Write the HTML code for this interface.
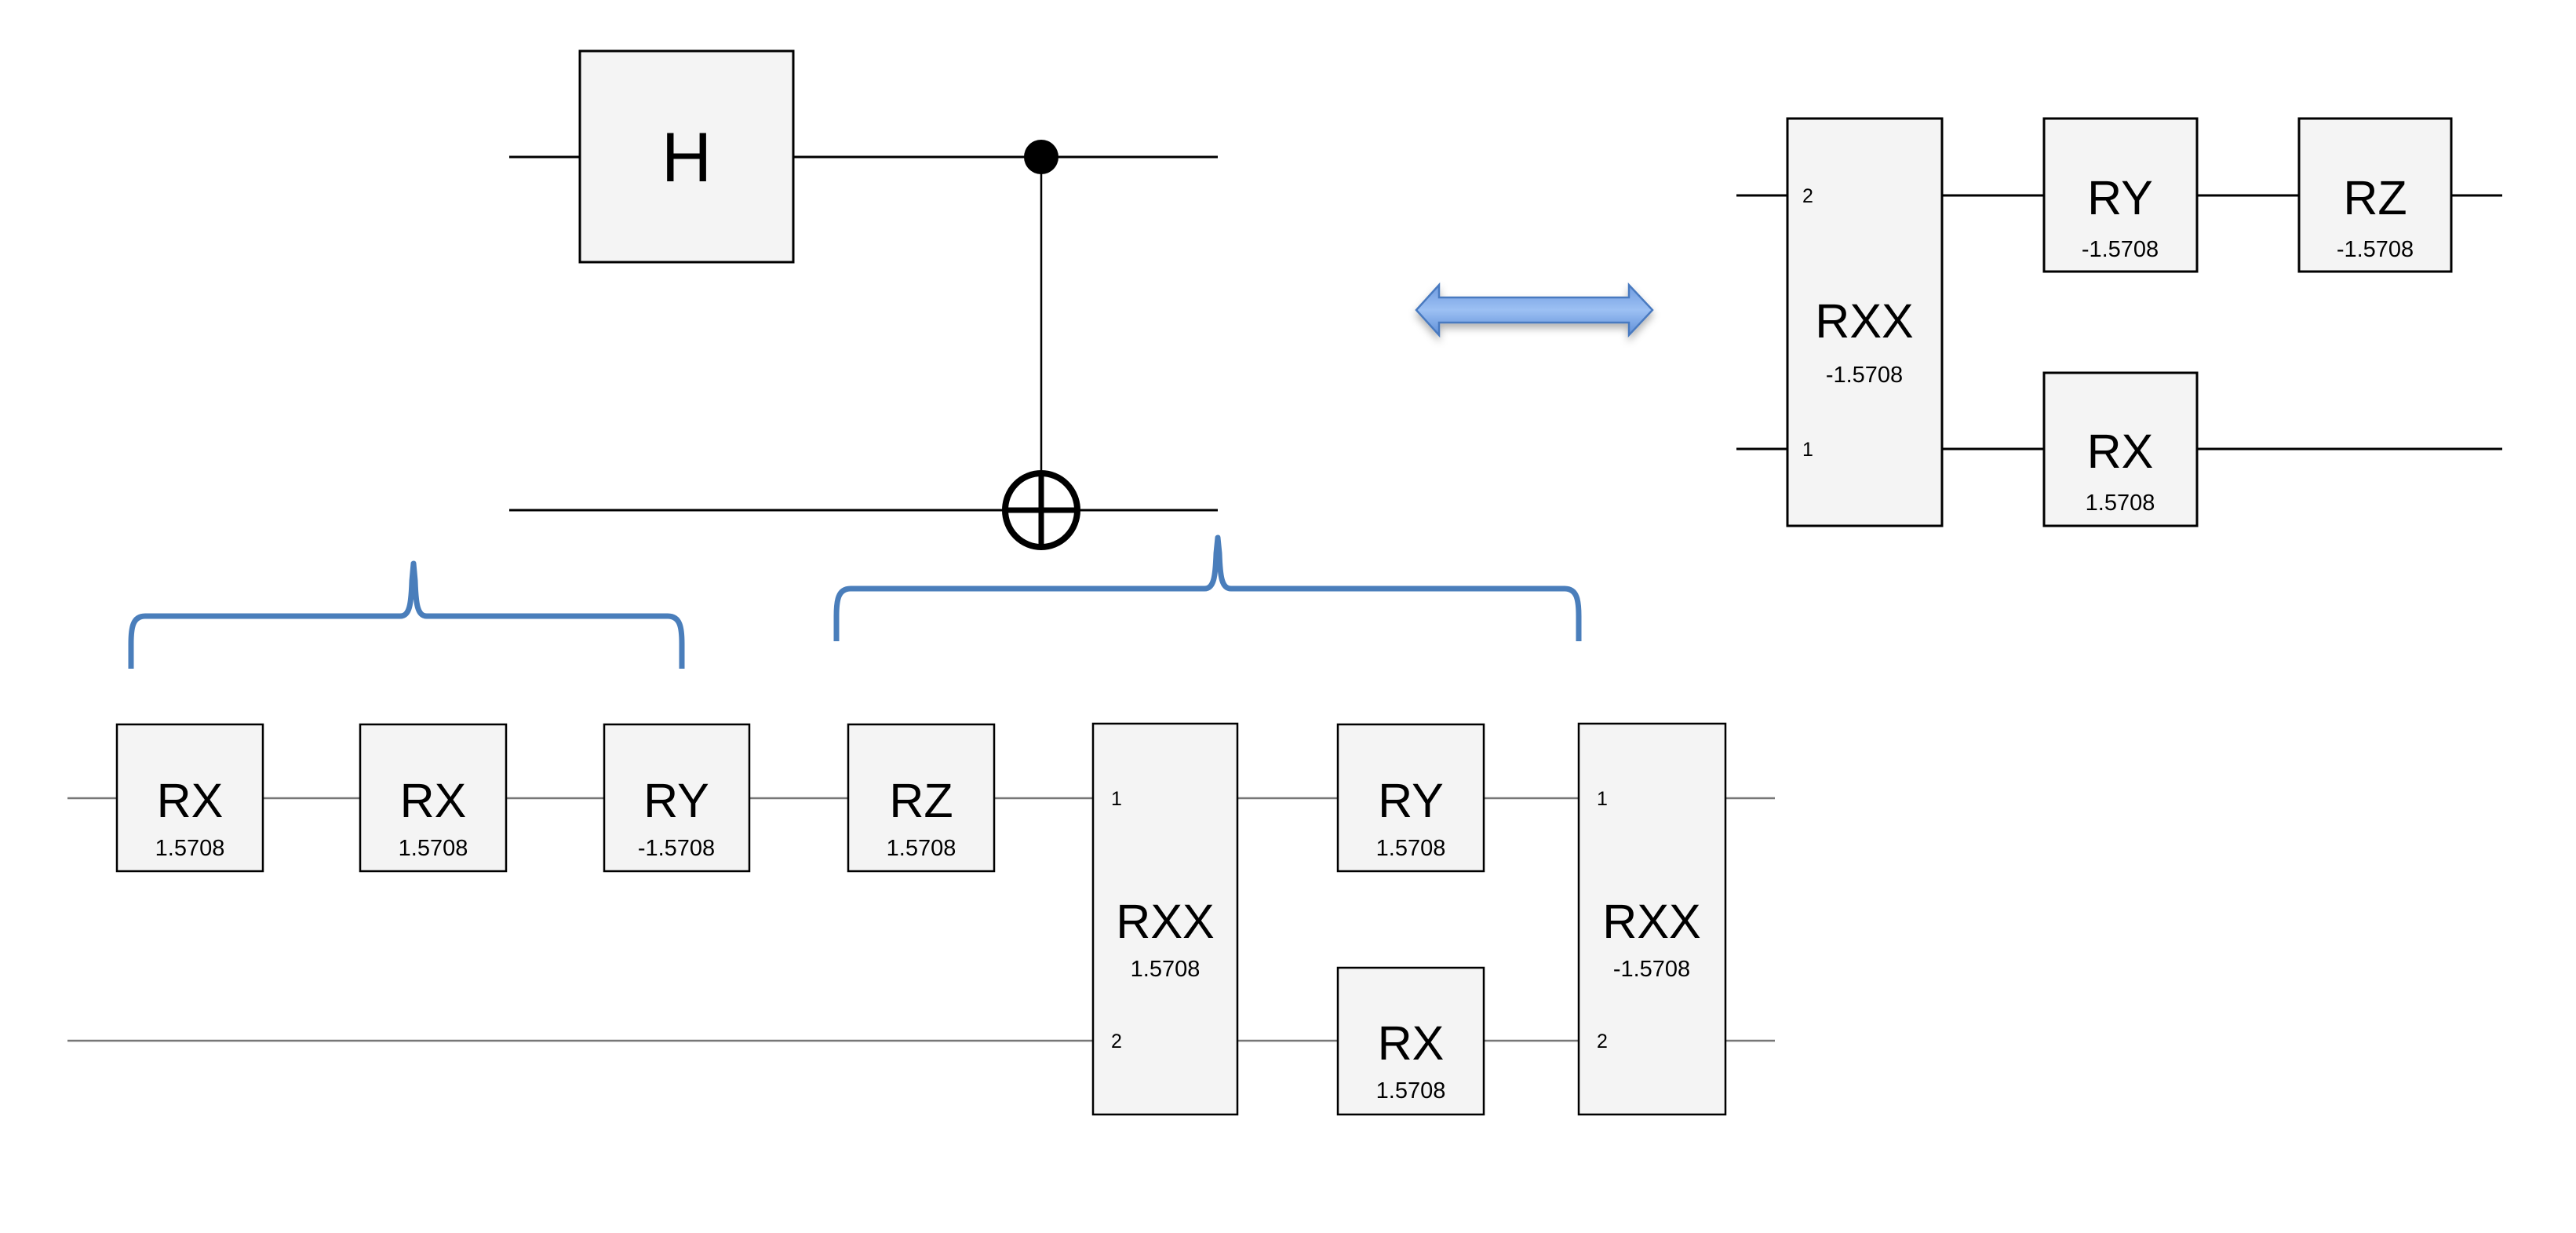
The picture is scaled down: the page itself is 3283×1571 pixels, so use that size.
<!DOCTYPE html>
<html><head><meta charset="utf-8"><style>
html,body{margin:0;padding:0;background:#fff;}
svg{display:block;}
text{font-family:"Liberation Sans",Arial,sans-serif;fill:#000;}
</style></head><body>
<svg width="3283" height="1571" viewBox="0 0 3283 1571" xmlns="http://www.w3.org/2000/svg">
<defs>
<linearGradient id="ag" x1="0" y1="0" x2="0" y2="1">
<stop offset="0" stop-color="#6f9be0"/><stop offset="0.5" stop-color="#9cc0f3"/><stop offset="1" stop-color="#5f8fd8"/>
</linearGradient>
<filter id="sh" x="-10%" y="-30%" width="120%" height="180%"><feDropShadow dx="0" dy="6" stdDeviation="5" flood-color="#000" flood-opacity="0.3"/></filter>
</defs>

<!-- Top-left CNOT circuit -->
<g stroke="#000" stroke-width="3" fill="none">
<line x1="649" y1="200" x2="1552" y2="200"/>
<line x1="649" y1="650" x2="1552" y2="650"/>
<line x1="1327" y1="200" x2="1327" y2="650" stroke-width="2.5"/>
</g>
<rect x="739" y="65" width="272" height="269" fill="#f4f4f4" stroke="#000" stroke-width="3"/>
<text x="875" y="231" font-size="89" text-anchor="middle">H</text>
<ellipse cx="1327" cy="200" rx="22" ry="22" fill="#000"/>
<ellipse cx="1327" cy="650" rx="46" ry="47" fill="none" stroke="#000" stroke-width="8"/>
<line x1="1281" y1="650" x2="1373" y2="650" stroke="#000" stroke-width="7"/>
<line x1="1327" y1="603" x2="1327" y2="697" stroke="#000" stroke-width="7"/>

<!-- double arrow -->
<path d="M1805,395 L1834,363 L1834,379 L2076,379 L2076,363 L2106,395 L2076,427 L2076,411 L1834,411 L1834,427 Z" fill="url(#ag)" stroke="#4a7ac0" stroke-width="2.5" filter="url(#sh)"/>

<!-- Right circuit -->
<g stroke="#000" stroke-width="3">
<line x1="2213" y1="249" x2="3189" y2="249"/>
<line x1="2213" y1="572" x2="3189" y2="572"/>
</g>
<g fill="#f4f4f4" stroke="#000" stroke-width="3">
<rect x="2278" y="151" width="197" height="519"/>
<rect x="2605" y="151" width="195" height="195"/>
<rect x="2930" y="151" width="194" height="195"/>
<rect x="2605" y="475" width="195" height="195"/>
</g>
<text x="2297" y="258" font-size="25">2</text>
<text x="2297" y="581" font-size="25">1</text>
<text x="2376" y="430" font-size="61" text-anchor="middle">RXX</text>
<text x="2376" y="487" font-size="29" text-anchor="middle">-1.5708</text>
<text x="2702" y="273" font-size="61" text-anchor="middle">RY</text>
<text x="2702" y="327" font-size="29" text-anchor="middle">-1.5708</text>
<text x="3027" y="273" font-size="61" text-anchor="middle">RZ</text>
<text x="3027" y="327" font-size="29" text-anchor="middle">-1.5708</text>
<text x="2702" y="596" font-size="61" text-anchor="middle">RX</text>
<text x="2702" y="650" font-size="29" text-anchor="middle">1.5708</text>

<!-- Braces -->
<g fill="none" stroke="#4a7ebb" stroke-width="7" stroke-linejoin="round">
<path d="M167,852 L167,820 C167,800 169,785 185,785 L510,785 C522,785 524,770 525,740 L527,718 L529,740 C530,770 532,785 544,785 L851,785 C867,785 869,800 869,820 L869,852"/>
<path d="M1066,817 L1066,785 C1066,765 1068,750 1084,750 L1535,750 C1547,750 1549,735 1550,705 L1552,685 L1554,705 C1555,735 1557,750 1569,750 L1994,750 C2010,750 2012,765 2012,785 L2012,817"/>
</g>

<!-- Bottom circuit -->
<g stroke="#777" stroke-width="2.5">
<line x1="86" y1="1017" x2="2262" y2="1017"/>
<line x1="86" y1="1326" x2="2262" y2="1326"/>
</g>
<g fill="#f4f4f4" stroke="#000" stroke-width="2.5">
<rect x="149" y="923" width="186" height="187"/>
<rect x="459" y="923" width="186" height="187"/>
<rect x="770" y="923" width="185" height="187"/>
<rect x="1081" y="923" width="186" height="187"/>
<rect x="1393" y="922" width="184" height="498"/>
<rect x="1705" y="923" width="186" height="187"/>
<rect x="1705" y="1233" width="186" height="187"/>
<rect x="2012" y="922" width="187" height="498"/>
</g>
<g font-size="61" text-anchor="middle">
<text x="242" y="1041">RX</text>
<text x="552" y="1041">RX</text>
<text x="862" y="1041">RY</text>
<text x="1174" y="1041">RZ</text>
<text x="1798" y="1041">RY</text>
<text x="1798" y="1350">RX</text>
<text x="1485" y="1195">RXX</text>
<text x="2105" y="1195">RXX</text>
</g>
<g font-size="29" text-anchor="middle">
<text x="242" y="1090">1.5708</text>
<text x="552" y="1090">1.5708</text>
<text x="862" y="1090">-1.5708</text>
<text x="1174" y="1090">1.5708</text>
<text x="1798" y="1090">1.5708</text>
<text x="1798" y="1399">1.5708</text>
<text x="1485" y="1244">1.5708</text>
<text x="2105" y="1244">-1.5708</text>
</g>
<g font-size="25">
<text x="1416" y="1026">1</text>
<text x="1416" y="1335">2</text>
<text x="2035" y="1026">1</text>
<text x="2035" y="1335">2</text>
</g>
</svg>
</body></html>
